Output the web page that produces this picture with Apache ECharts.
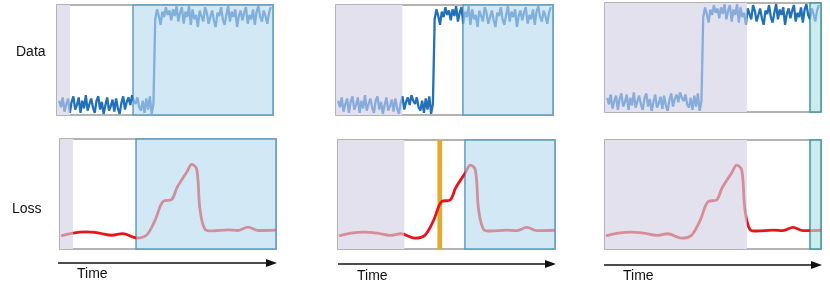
<!DOCTYPE html>
<html><head><meta charset="utf-8">
<script src="https://cdn.jsdelivr.net/npm/echarts@6/dist/echarts.min.js"></script>
<style>html,body{margin:0;padding:0;background:#fff}#c{width:830px;height:295px}</style>
</head><body><div id="c"></div>
<script>
// Noisy data signal (120 samples, step change near 45% of time)
const dataValues = [13,7,16,3,10,15,2,12,17,5,9,16,2,13,6,18,4,10,15,7,2,13,17,5,12,1,9,16,4,8,14,3,15,6,1,11,17,5,12,16,9,18,13,10,16,7,4,13,2,15,5,17,1,10,
  87,96,90,82,94,89,98,91,95,86,96,90,99,85,93,98,83,94,89,99,82,96,87,91,80,95,90,85,98,93,83,89,95,86,80,93,90,98,87,82,91,99,85,94,89,96,80,90,95,86,93,98,83,91,87,96,82,94,99,89,85,95,90,83,93,98];
// Loss curve (time, value)
const lossX = [0.5, 6, 12, 18, 24, 29, 35.5, 40, 44, 47.8, 51.7, 54.2, 58.7, 61, 63.3, 64.8, 67.1, 70.2, 77.8, 82.4, 87, 91.7, 100];
const lossY = [12, 14.5, 15.5, 14.5, 12.5, 14, 10, 12.5, 26, 43.5, 45, 56, 70, 77, 72.5, 36, 18, 16.5, 17.4, 16.8, 19.8, 16.8, 17.2];
// Sliding window per column (time units 0..100)
const windowStart = [6.0, 30.6, 65.7];
const windowEnd = [35.2, 58.5, 94.9];
const eventTime = 46.9;
const rowLabels = ['Data', 'Loss'];
const timeLabel = 'Time';

const grids = [
  {left:57, top:5, width:216, height:110},
  {left:336, top:5, width:217, height:110},
  {left:605, top:3, width:216, height:109},
  {left:60, top:139, width:216, height:110},
  {left:338, top:140, width:217, height:109},
  {left:605, top:140, width:216, height:109}
];

const lavender = '#e3e1ee', futureBlue = '#d2e8f4', futureBorder = '#5f9dbf',
      teal = '#cdeaee', tealBorder = '#3f9a9c';
const dataDark = '#2271b8', dataLight = 'rgba(80,140,205,0.62)';
const lossDark = '#e8141c', lossLight = 'rgba(205,70,85,0.55)';

const dataPairs = dataValues.map((v, k) => [1 + k * 98 / (dataValues.length - 1), v]);
const lossPairs = lossX.map((x, k) => [x, lossY[k]]);
const font = '14px "Liberation Sans", Arial, sans-serif';

const option = {
  animation: false,
  grid: grids.map(g => Object.assign({show:true, borderColor:'#9a9a9a', borderWidth:1.5, backgroundColor:'#fff'}, g)),
  xAxis: grids.map((g, i) => ({type:'value', gridIndex:i, min:0, max:100, show:false})),
  yAxis: grids.map((g, i) => ({type:'value', gridIndex:i, min:0, max:100, show:false})),
  visualMap: grids.map((g, i) => {
    const col = i % 3, row = i < 3 ? 0 : 1;
    const dk = row === 0 ? dataDark : lossDark, lt = row === 0 ? dataLight : lossLight;
    return {type:'piecewise', show:false, seriesIndex:i, dimension:0,
      pieces:[{lt:windowStart[col], color:lt}, {gte:windowStart[col], lte:windowEnd[col], color:dk}, {gt:windowEnd[col], color:lt}]};
  }),
  series: grids.map((g, i) => {
    const col = i % 3, row = i < 3 ? 0 : 1;
    const areas = [
      [{xAxis:0, itemStyle:{color:lavender}}, {xAxis:windowStart[col]}],
      [{xAxis:windowEnd[col], itemStyle: col === 2
          ? {color:teal, borderColor:tealBorder, borderWidth:1.5}
          : {color:futureBlue, borderColor:futureBorder, borderWidth:1.5}}, {xAxis:100}]
    ];
    if (i === 4) areas.push([{xAxis:eventTime - 1.1, itemStyle:{color:'#e2ab30'}}, {xAxis:eventTime + 1.1}]);
    return {
      type:'line', xAxisIndex:i, yAxisIndex:i, showSymbol:false, silent:true,
      smooth: row === 1 ? 0.35 : false,
      data: row === 0 ? dataPairs : lossPairs,
      lineStyle:{width: row === 0 ? 2.3 : 2.8},
      markArea:{silent:true, data:areas}
    };
  }),
  graphic: [
    {type:'text', left:16, top:45, style:{text:rowLabels[0], font:font, fill:'#111'}},
    {type:'text', left:12, top:202, style:{text:rowLabels[1], font:font, fill:'#111'}},
    {type:'text', left:77, top:267, style:{text:timeLabel, font:font, fill:'#111'}},
    {type:'text', left:357, top:269, style:{text:timeLabel, font:font, fill:'#111'}},
    {type:'text', left:623, top:269, style:{text:timeLabel, font:font, fill:'#111'}},
    {type:'line', shape:{x1:58, y1:263, x2:270, y2:263}, style:{stroke:'#111', lineWidth:1.3}},
    {type:'polygon', shape:{points:[[266,259],[277,263],[266,267]]}, style:{fill:'#111'}},
    {type:'line', shape:{x1:338, y1:264, x2:549, y2:264}, style:{stroke:'#111', lineWidth:1.3}},
    {type:'polygon', shape:{points:[[545,260],[556,264],[545,268]]}, style:{fill:'#111'}},
    {type:'line', shape:{x1:604, y1:265, x2:815, y2:265}, style:{stroke:'#111', lineWidth:1.3}},
    {type:'polygon', shape:{points:[[811,261],[822,265],[811,269]]}, style:{fill:'#111'}}
  ]
};
const chart = echarts.init(document.getElementById('c'), null, {renderer:'canvas'});
chart.setOption(option);
</script>
</body></html>
